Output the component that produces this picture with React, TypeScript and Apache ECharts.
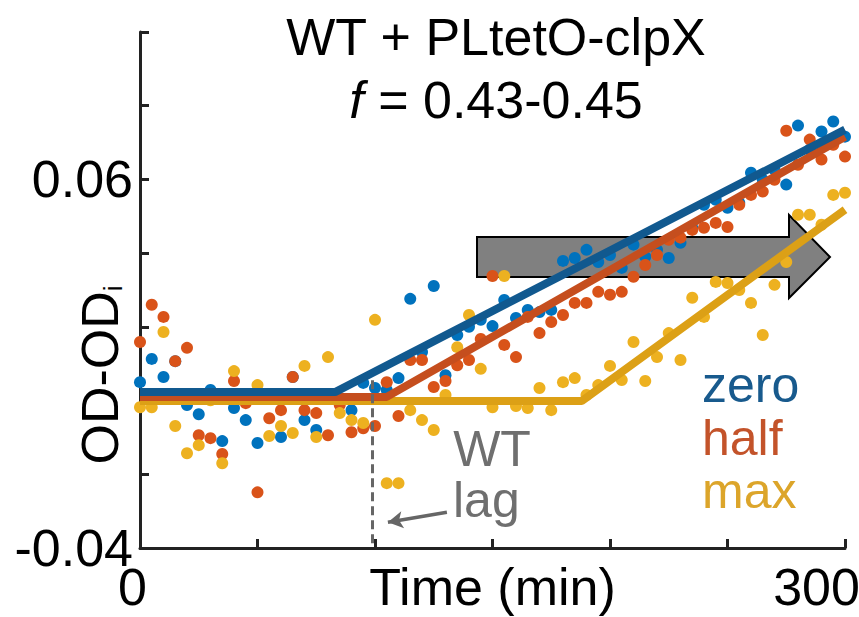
import React, { useEffect, useRef } from 'react';
import * as echarts from 'echarts';

const FONT = "'Liberation Sans', Arial, Helvetica, sans-serif";

const times = [
  0, 5, 10, 15, 20, 25, 30, 35, 40, 45, 50, 55, 60, 65, 70, 75, 80, 85, 90, 95,
  100, 105, 110, 115, 120, 125, 130, 135, 140, 145, 150, 155, 160, 165, 170, 175,
  180, 185, 190, 195, 200, 205, 210, 215, 220, 225, 230, 235, 240, 245, 250, 255,
  260, 265, 270, 275, 280, 285, 290, 295, 300,
];

const zeroValues = [
  0.005, 0.0113, 0.0064, 0.0107, -0.0012, -0.0037, 0.0029, -0.011, -0.002, -0.0053,
  -0.0115, 0.0015, -0.0099, 0.0064, -0.0053, -0.008, 0.0015, 0.0001, -0.0026, 0.0048,
  0.0034, 0.0029, 0.0061, 0.0276, 0.0132, 0.0311, 0.0069, 0.0178, 0.02, 0.0219,
  0.0202, 0.0273, 0.0224, 0.0246, 0.024, 0.0246, 0.0379, 0.0387, 0.0409, 0.0376,
  0.0395, 0.036, 0.0423, 0.039, 0.0409, 0.0387, 0.0428, 0.0469, 0.0531, 0.0545,
  0.0523, 0.0537, 0.0618, 0.0599, 0.0626, 0.0586, 0.0746, 0.0681, 0.073, 0.0757,
  0.0716,
];

const halfValues = [
  0.0159, 0.026, 0.0227, 0.0107, 0.0143, -0.0094, -0.0102, -0.0145, 0.0053, -0.0007,
  -0.0249, -0.0048, -0.0026, 0.0064, -0.0026, -0.0034, -0.0094, -0.0012, -0.0086, -0.0075,
  -0.0069, 0.005, -0.0042, 0.011, 0.011, 0.0037, 0.0053, 0.0096, 0.011, 0.0167,
  0.0338, 0.0151, 0.0118, 0.0227, 0.0183, 0.0213, 0.0232, 0.0265, 0.0265, 0.0295,
  0.0287, 0.0295, 0.0336, 0.0368, 0.0395, 0.0436, 0.0442, 0.0463, 0.0469, 0.0482,
  0.0471, 0.0531, 0.0558, 0.0567, 0.0599, 0.0732, 0.064, 0.0708, 0.0654, 0.0694,
  0.0662,
];

const maxValues = [
  -0.0018, -0.0018, 0.0186, -0.0069, -0.0143, -0.0121, 0.0001, -0.017, 0.008, 0.0015,
  0.0042, -0.0096, -0.0069, -0.0088, 0.0094, -0.0099, 0.0118, -0.0034, -0.0053, -0.0061,
  0.0219, -0.0224, -0.0224, -0.0026, -0.0053, -0.008, 0.0015, 0.0145, 0.0232, 0.0086,
  -0.0018, 0.0338, -0.0015, -0.002, 0.0034, -0.0026, 0.005, 0.0061, 0.0015, 0.0042,
  0.0094, 0.0056, 0.0159, 0.0053, 0.0118, 0.0183, 0.011, 0.0279, 0.0227, 0.0322,
  0.0319, 0.03, 0.0265, 0.0178, 0.0314, 0.0376, 0.0504, 0.0504, 0.0477, 0.0558,
  0.0564,
];

const zeroFitTimes = [0, 83, 300];
const zeroFitValues = [0.0023, 0.0023, 0.0735];
const halfFitTimes = [0, 105, 300];
const halfFitValues = [0.001, 0.001, 0.0716];
const maxFitTimes = [0, 188, 300];
const maxFitValues = [-0.0001, -0.0001, 0.0518];

const xTickLabels = [0, 300];
const yTickLabels = [-0.04, 0.06];

const lagTime = 99;
const lagTop = 0.0055;
const lagArrowFrom = [130.6, -0.0303];
const lagArrowTo = [105.5, -0.033];

const seriesNames = ['zero', 'half', 'max'];
const dotColors = ['#0072BD', '#D95319', '#EDB120'];
const lineColors = ['#11598f', '#c54e1e', '#dca016'];
const labelColors = ['#185a8d', '#c3532a', '#dca52a'];

const pairs = (xs: number[], ys: number[]) => xs.map((x, i) => [x, ys[i]]);

export default function App() {
  const ref = useRef<HTMLDivElement>(null);

  useEffect(() => {
    document.body.style.margin = '0';
    if (!ref.current) return;
    const chart = echarts.init(ref.current, undefined, { renderer: 'svg' });

    const scatterData = [zeroValues, halfValues, maxValues];
    const fits = [
      pairs(zeroFitTimes, zeroFitValues),
      pairs(halfFitTimes, halfFitValues),
      pairs(maxFitTimes, maxFitValues),
    ];

    const scatterSeries = scatterData.map((vals, k) => ({
      type: 'scatter',
      name: seriesNames[k] + ' data',
      data: pairs(times, vals),
      symbolSize: 12,
      itemStyle: { color: dotColors[k], opacity: 1 },
      z: 3,
      silent: true,
      ...(k === 0
        ? {
            markLine: {
              silent: true,
              symbol: ['none', 'none'],
              label: { show: false },
              animation: false,
              data: [
                [
                  {
                    coord: [lagTime, lagTop],
                    lineStyle: { color: '#666', width: 3, type: [9, 5] },
                  },
                  { coord: [lagTime, -0.04] },
                ],
                [
                  {
                    coord: lagArrowFrom,
                    symbol: 'none',
                    lineStyle: { color: '#666', width: 3.5, type: 'solid' },
                  },
                  { coord: lagArrowTo, symbol: 'arrow', symbolSize: [13, 15] },
                ],
              ],
            },
          }
        : {}),
    }));

    const lineSeries = [2, 1, 0].map((k) => ({
      type: 'line',
      name: seriesNames[k] + ' fit',
      data: fits[k],
      showSymbol: false,
      symbol: 'none',
      lineStyle: { color: lineColors[k], width: 8, cap: 'butt' },
      z: 4,
      silent: true,
    }));

    chart.setOption({
      animation: false,
      textStyle: { fontFamily: FONT },
      title: {
        text: 'WT + PLtetO-clpX',
        subtext: '{i|f} = 0.43-0.45',
        left: 491,
        top: 6,
        textAlign: 'center',
        itemGap: 11,
        textStyle: { fontSize: 52, fontWeight: 'normal', color: '#000', fontFamily: FONT },
        subtextStyle: {
          fontSize: 52,
          color: '#000',
          fontFamily: FONT,
          rich: { i: { fontStyle: 'italic', fontSize: 52, color: '#000', fontFamily: FONT } },
        },
      },
      grid: { left: 140, right: 14, top: 32, bottom: 69, containLabel: false, outerBoundsMode: 'none' },
      xAxis: {
        type: 'value',
        min: 0,
        max: 300,
        interval: 50,
        name: 'Time (min)',
        nameLocation: 'middle',
        nameGap: 20,
        nameMoveOverlap: false,
        nameTextStyle: { fontSize: 52, lineHeight: 38, color: '#000', fontFamily: FONT, verticalAlign: 'top' },
        axisLine: { show: true, onZero: false, lineStyle: { color: '#222', width: 3 } },
        axisTick: { show: true, inside: true, length: 9, lineStyle: { color: '#222', width: 3 } },
        axisLabel: {
          show: true,
          margin: 20,
          showMinLabel: true,
          showMaxLabel: true,
          fontSize: 52,
          lineHeight: 38,
          color: '#000',
          fontFamily: FONT,
          formatter: (v: number) => {
            if (v === xTickLabels[0]) return '{l|' + v + '}';
            if (v === xTickLabels[1]) return '{r|' + v + '}';
            return '';
          },
          rich: {
            l: { fontSize: 52, lineHeight: 38, color: '#000', fontFamily: FONT, padding: [0, 15, 0, 0] },
            r: { fontSize: 52, lineHeight: 38, color: '#000', fontFamily: FONT, padding: [0, 57, 0, 0] },
          },
        },
        splitLine: { show: false },
      },
      yAxis: {
        type: 'value',
        min: -0.04,
        max: 0.1,
        interval: 0.02,
        axisLine: { show: true, onZero: false, lineStyle: { color: '#222', width: 3 } },
        axisTick: { show: true, inside: true, length: 9, lineStyle: { color: '#222', width: 3 } },
        axisLabel: {
          show: true,
          margin: 7,
          showMinLabel: true,
          showMaxLabel: true,
          fontSize: 52,
          lineHeight: 38,
          color: '#000',
          fontFamily: FONT,
          formatter: (v: number) => {
            for (const t of yTickLabels) {
              if (Math.abs(v - t) < 1e-9) return String(t);
            }
            return '';
          },
        },
        splitLine: { show: false },
      },
      graphic: [
        {
          type: 'polygon',
          z: 1,
          silent: true,
          shape: {
            points: [
              [477, 237],
              [789, 237],
              [789, 215],
              [830, 257],
              [789, 298],
              [789, 277],
              [477, 277],
            ],
          },
          style: { fill: '#808080', stroke: '#000', lineWidth: 2 },
        },
        {
          type: 'text',
          z: 10,
          x: 100,
          y: 375,
          rotation: Math.PI / 2,
          silent: true,
          style: {
            text: '{a|OD-OD}{b|i}',
            align: 'center',
            verticalAlign: 'middle',
            fill: '#000',
            rich: {
              a: { fontSize: 52, lineHeight: 52, fontFamily: FONT, fill: '#000' },
              b: { fontSize: 26, lineHeight: 14, verticalAlign: 'bottom', fontFamily: FONT, fill: '#000' },
            },
          },
        },
        {
          type: 'text',
          z: 10,
          x: 492,
          y: 449,
          silent: true,
          style: { text: 'WT', fontSize: 50, fontFamily: FONT, fill: '#6f6f6f', align: 'center', verticalAlign: 'middle' },
        },
        {
          type: 'text',
          z: 10,
          x: 453,
          y: 500,
          silent: true,
          style: { text: 'lag', fontSize: 50, fontFamily: FONT, fill: '#6f6f6f', align: 'left', verticalAlign: 'middle' },
        },
        ...seriesNames.map((n, k) => ({
          type: 'text',
          z: 10,
          x: 702,
          y: 385 + k * 53,
          silent: true,
          style: { text: n, fontSize: 50, fontFamily: FONT, fill: labelColors[k], align: 'left', verticalAlign: 'middle' },
        })),
      ],
      series: [...scatterSeries, ...lineSeries],
    });

    return () => {
      chart.dispose();
    };
  }, []);

  return <div ref={ref} style={{ width: 859, height: 617 }} />;
}
